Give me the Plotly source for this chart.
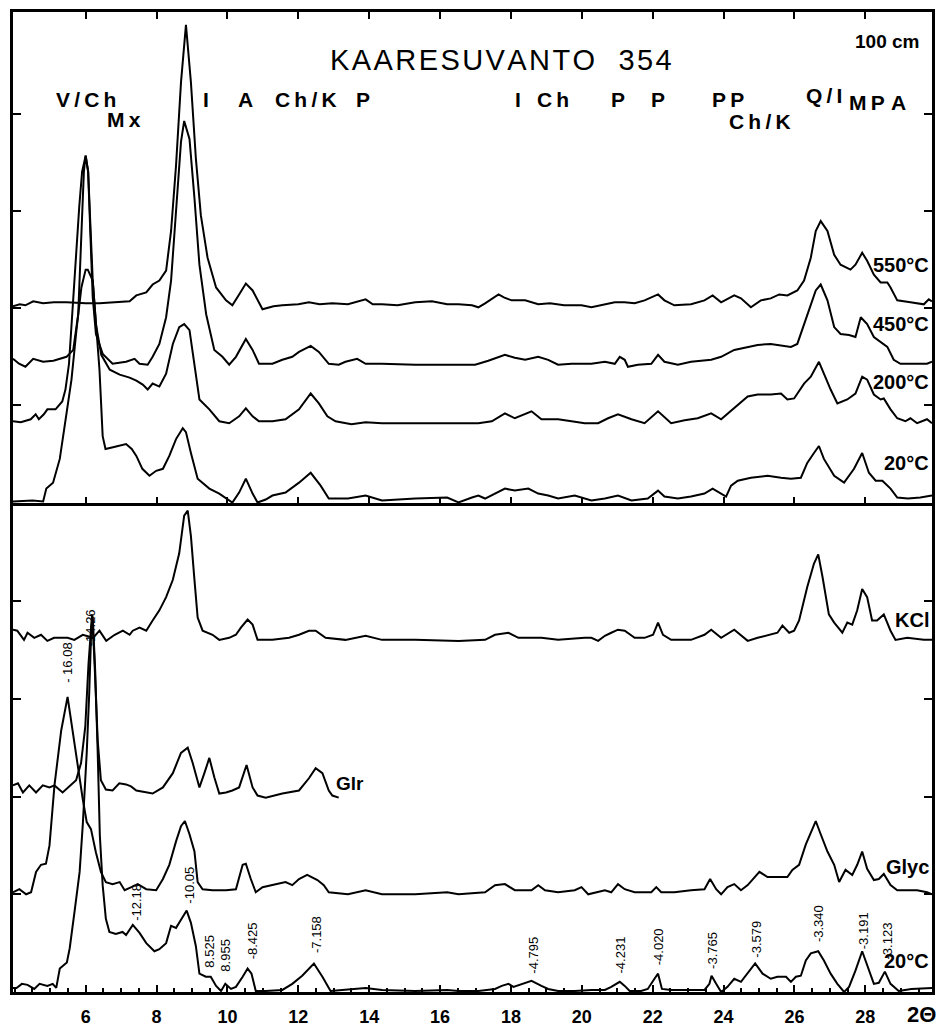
import plotly.graph_objects as go
from plotly.subplots import make_subplots

FONT = "Liberation Sans, Arial, Helvetica, sans-serif"

# ---------------- TOP PANEL (heat treatments) ----------------
t550_x = [3.95,4.14,4.3,4.52,4.8,5.1,5.46,5.8,6.0,6.39,6.8,7.24,7.43,7.71,7.89,8.08,8.27,8.41,8.55,8.69,8.83,8.97,9.11,9.25,9.44,9.68,9.96,10.14,10.33,10.52,10.71,10.99,11.3,11.55,12.0,12.3,12.6,12.96,13.4,13.9,14.1,14.36,14.8,15.3,15.77,16.2,16.52,16.9,17.08,17.27,17.65,17.8,18.02,18.4,18.77,19.1,19.5,19.99,20.27,20.65,20.93,21.2,21.49,21.77,22.15,22.33,22.61,23.08,23.46,23.69,23.93,24.30,24.49,24.77,25.05,25.33,25.57,25.80,26.08,26.27,26.46,26.60,26.74,26.93,27.12,27.30,27.58,27.72,27.91,28.05,28.24,28.43,28.62,28.71,28.90,29.27,29.65,29.79,29.88]
t550_y = [199,201,200,204,202,203,203,202,202,202,203,204,210,213,221,225,235,275,341,425,483,425,348,291,248,218,205,200,211,222,215,196,199,200,201,203,201,202,201,206,201,201,200,203,204,201,201,200,198,202,211,208,205,205,201,202,200,200,198,201,203,203,202,205,211,205,200,201,205,210,203,210,207,198,205,207,211,210,215,225,248,275,285,275,251,241,236,241,253,245,231,223,223,218,205,203,201,206,204]

t450_x = [3.95,4.12,4.30,4.52,4.80,5.09,5.46,5.65,5.79,5.88,5.95,6.00,6.07,6.13,6.20,6.29,6.48,6.76,7.14,7.38,7.52,7.75,7.89,8.08,8.27,8.41,8.55,8.69,8.78,8.93,9.07,9.21,9.40,9.63,9.86,10.05,10.24,10.52,10.71,10.89,11.27,11.55,11.83,12.02,12.35,12.58,12.86,13.14,13.33,13.66,13.9,14.36,15.3,16.0,16.52,16.99,17.36,17.83,18.11,18.40,18.77,19.05,19.33,19.71,20.27,20.65,20.93,21.07,21.21,21.30,21.58,21.96,22.15,22.33,22.71,23.08,23.65,23.93,24.30,24.68,24.96,25.33,25.57,25.90,26.08,26.27,26.46,26.60,26.74,26.93,27.12,27.30,27.54,27.72,27.87,28.05,28.24,28.43,28.62,28.80,28.99,29.46,29.74,29.88]
t450_y = [146,141,138,146,143,144,148,155,191,275,335,351,335,275,208,171,151,141,143,146,141,140,148,161,188,225,291,365,386,368,308,241,191,155,148,140,148,166,155,141,141,145,148,153,159,153,141,140,143,146,141,141,140,140,140,140,144,150,147,145,148,145,140,141,141,143,141,148,145,138,140,141,150,143,140,143,145,148,155,158,160,161,160,158,161,181,201,215,221,205,178,171,170,168,188,181,168,163,158,145,141,141,141,143]

t200_x = [3.95,4.17,4.45,4.59,4.68,4.82,4.92,5.15,5.34,5.43,5.53,5.62,5.72,5.82,5.90,6.00,6.07,6.13,6.20,6.29,6.44,6.68,6.96,7.24,7.43,7.61,7.75,7.89,8.08,8.27,8.46,8.64,8.78,8.93,9.07,9.21,9.49,9.77,10.05,10.33,10.52,10.71,10.89,11.27,11.64,12.02,12.35,12.58,12.82,13.05,13.5,13.9,14.36,15.77,16.52,17.08,17.46,17.83,18.11,18.58,18.86,19.33,19.71,20.08,20.46,20.74,21.02,21.40,21.77,22.15,22.52,22.90,23.27,23.65,23.93,24.30,24.68,24.96,25.33,25.62,25.80,25.99,26.27,26.46,26.69,26.83,27.02,27.21,27.49,27.72,27.91,28.05,28.24,28.43,28.52,28.71,28.90,29.13,29.27,29.46,29.74,29.88]
t200_y = [83,82,85,90,85,90,95,95,103,115,141,191,250,300,335,351,335,275,225,181,150,135,130,127,124,120,115,121,118,131,161,178,181,175,141,105,95,83,81,88,96,88,83,83,85,95,111,101,88,83,80,82,81,81,81,81,83,91,86,93,85,85,83,81,81,86,90,85,81,93,81,84,86,91,85,96,108,110,110,111,105,106,121,128,143,131,115,101,105,111,128,125,110,105,106,95,86,83,86,81,85,81]

t20_x = [3.95,4.5,4.8,4.89,5.08,5.27,5.46,5.60,5.74,5.88,6.00,6.06,6.20,6.28,6.39,6.48,6.56,6.80,7.05,7.14,7.30,7.43,7.60,7.71,7.80,7.99,8.18,8.36,8.55,8.74,8.83,8.97,9.16,9.49,9.77,10.14,10.33,10.52,10.71,10.85,11.08,11.27,11.64,12.02,12.35,12.63,12.86,13.4,13.90,14.36,15.3,16.2,16.52,16.9,17.08,17.27,17.55,17.83,18.11,18.49,18.77,19.05,19.33,19.80,20.27,20.65,21.02,21.40,21.86,22.15,22.33,22.71,23.08,23.46,23.69,23.93,24.07,24.21,24.40,24.77,25.24,25.62,25.90,26.18,26.36,26.55,26.69,26.83,27.12,27.40,27.68,27.91,28.10,28.29,28.48,28.71,28.90,29.2,29.55,29.88]
t20_y = [2,3,2,15,21,45,91,125,175,218,236,236,225,185,135,68,55,57,59,60,55,48,35,31,28,33,35,48,65,76,72,51,25,15,10,1,11,25,10,1,4,8,11,21,31,18,5,5,8,3,5,6,1,6,8,5,10,15,13,15,10,8,5,8,3,5,8,3,5,13,7,5,7,10,15,10,7,18,23,26,28,26,25,26,41,51,58,45,28,21,35,51,31,23,23,15,6,5,6,8]

# ---------------- BOTTOM PANEL (treatments) ----------------
kcl_x = [3.95,4.07,4.26,4.36,4.55,4.74,4.92,5.11,5.49,5.68,5.92,6.21,6.39,6.58,6.82,7.05,7.24,7.33,7.52,7.71,7.89,8.08,8.27,8.46,8.64,8.78,8.88,8.97,9.07,9.16,9.30,9.58,9.77,10.05,10.24,10.38,10.57,10.71,10.85,11.27,11.74,12.02,12.30,12.49,12.77,13.33,13.90,14.36,15.3,16.2,16.52,17.27,17.55,17.93,18.21,18.86,19.33,20.08,20.27,20.46,20.65,20.83,21.02,21.21,21.49,21.77,22.01,22.15,22.29,22.52,23.08,23.46,23.65,23.93,24.30,24.68,24.96,25.52,25.66,25.85,25.99,26.13,26.36,26.55,26.67,26.79,26.97,27.12,27.35,27.49,27.63,27.77,27.91,28.05,28.19,28.33,28.52,28.71,28.85,29.18,29.65,29.88]
kcl_y = [356,355,346,353,348,351,345,348,348,346,351,348,355,345,351,355,351,355,358,355,365,375,388,405,431,468,473,448,405,368,355,351,346,348,351,358,366,361,346,346,348,351,355,355,348,346,350,346,346,345,345,346,351,353,348,348,346,348,348,345,350,353,356,355,348,348,351,363,351,346,346,351,356,348,356,345,348,353,360,353,355,365,398,421,430,408,371,363,353,363,361,375,396,388,365,365,371,355,346,348,346,346]

glr_x = [3.95,4.09,4.23,4.41,4.60,4.79,4.98,5.12,5.35,5.59,5.73,5.87,5.99,6.08,6.15,6.18,6.24,6.34,6.43,6.57,6.76,6.95,7.14,7.28,7.43,7.71,7.89,8.18,8.46,8.69,8.88,9.02,9.21,9.35,9.49,9.63,9.77,9.96,10.14,10.33,10.54,10.71,10.85,11.08,11.55,12.02,12.30,12.49,12.68,12.86,12.96,13.14]
glr_y = [203,205,196,203,196,203,201,203,196,203,208,225,261,322,364,371,332,247,208,199,198,205,204,202,198,196,195,201,215,235,240,225,201,215,230,211,195,196,198,201,223,201,193,191,195,198,210,220,215,198,193,191]

glyc_x = [3.95,4.13,4.32,4.46,4.60,4.74,4.88,4.98,5.12,5.31,5.49,5.64,5.78,5.92,6.03,6.15,6.29,6.43,6.57,6.76,6.96,7.10,7.29,7.47,7.71,7.99,8.18,8.36,8.55,8.69,8.80,8.93,9.07,9.16,9.30,9.58,9.96,10.24,10.43,10.52,10.66,10.80,10.99,11.27,11.64,11.83,12.02,12.25,12.54,12.72,12.86,13.4,13.90,14.36,15.3,16.2,16.52,17.27,17.55,17.83,18.11,18.58,18.77,18.96,19.33,19.80,19.99,20.18,20.65,20.83,21.02,21.21,21.49,21.96,22.10,22.24,22.61,23.08,23.46,23.62,23.79,23.93,24.11,24.30,24.49,24.68,25.01,25.24,25.80,25.94,26.13,26.32,26.60,26.74,26.93,27.12,27.26,27.44,27.63,27.77,27.91,28.05,28.24,28.38,28.52,28.71,28.90,29.46,29.74,29.88]
glyc_y = [98,101,96,98,118,125,126,144,203,257,290,254,218,189,167,160,137,118,108,106,108,100,103,106,101,100,111,125,148,163,168,155,138,108,101,100,100,101,125,126,111,98,103,105,108,105,111,115,110,105,98,96,100,96,96,98,96,98,105,106,100,100,105,100,98,100,103,96,100,98,106,101,98,98,103,98,98,100,101,111,101,96,103,106,100,105,118,113,113,120,125,145,168,155,138,125,108,120,115,125,138,121,110,111,116,105,100,100,98,96]

b20_x = [3.95,4.05,4.20,4.36,4.55,4.70,4.92,5.07,5.17,5.27,5.47,5.55,5.69,5.83,5.92,6.03,6.10,6.16,6.20,6.27,6.34,6.40,6.48,6.57,6.67,6.85,7.04,7.14,7.33,7.52,7.71,7.94,8.08,8.27,8.41,8.55,8.69,8.85,8.97,9.11,9.21,9.39,9.53,9.68,9.82,9.94,10.10,10.24,10.43,10.57,10.68,10.80,11.08,11.55,11.83,12.11,12.44,12.68,12.91,13.33,13.90,14.36,15.3,16.2,16.52,17.08,17.55,17.74,17.93,18.07,18.30,18.58,18.86,19.05,19.33,19.80,20.27,20.65,20.83,21.07,21.21,21.35,21.67,21.86,22.05,22.15,22.26,22.52,23.08,23.46,23.60,23.66,23.79,23.93,24.11,24.30,24.49,24.72,24.89,25.10,25.33,25.52,25.76,25.90,26.04,26.18,26.32,26.46,26.67,26.83,27.02,27.21,27.40,27.54,27.72,27.91,28.10,28.24,28.38,28.55,28.71,28.94,29.3,29.88]
b20_y = [4,4,8,7,3,8,6,8,4,23,29,43,80,118,165,235,293,358,369,315,235,154,105,72,59,57,59,56,66,58,48,40,42,48,65,63,71,80,68,45,18,15,15,6,1,8,3,5,15,23,18,1,1,2,8,16,28,15,1,2,4,2,1,2,1,1,3,6,8,5,8,11,6,3,1,1,2,2,5,10,6,1,1,3,13,18,3,2,2,2,8,16,8,0,5,13,10,21,28,18,13,15,15,10,15,16,31,38,40,31,18,8,0,5,21,40,21,8,9,20,8,1,3,4]

# ---------------- text ----------------
title_text = "KAARESUVANTO  354"
depth_text = "100 cm"
mineral_labels = ["V/Ch", "Mx", "I", "A", "Ch/K", "P", "I", "Ch", "P", "P", "PP", "Ch/K", "Q/I", "MP", "A"]
mineral_x = [6.0, 7.07, 9.40, 10.50, 12.22, 13.82, 18.21, 19.19, 21.02, 22.15, 24.12, 25.02, 26.82, 28.05, 28.93]
mineral_y = [408, 388, 408, 408, 408, 408, 408, 408, 408, 408, 408, 386, 412, 405, 405]

top_curve_labels = ["550°C", "450°C", "200°C", "20°C"]
top_curve_label_y = [241, 181, 123, 41]
bot_curve_labels = ["KCl", "Glyc", "20°C"]
bot_curve_label_y = [366, 123, 30]

d_labels = ["- 16.08", "-14.26", "-12.18", "-10.05", "8.525", "8.955", "-8.425", "-7.158",
            "-4.795", "-4.231", "-4.020", "-3.765", "-3.579", "-3.340", "-3.191", "-3.123"]
d_x = [5.49, 6.14, 7.43, 8.93, 9.49, 9.94, 10.70, 12.50,
       18.63, 21.08, 22.15, 23.69, 24.93, 26.70, 27.97, 28.62]
d_y = [323, 358, 88, 105, 40, 36, 50, 56, 36, 36, 44, 41, 52, 67, 60, 50]

x_ticks = [6, 8, 10, 12, 14, 16, 18, 20, 22, 24, 26, 28]
top_yticks = [99, 197, 295, 393]
bot_yticks = [96, 192, 288, 384]


def spaced(s, sep="\u2009"):
    return sep.join(list(s))


# ---------------- figure ----------------
fig = make_subplots(rows=2, cols=1, shared_xaxes=True, vertical_spacing=0,
                    row_heights=[496, 493])

line = dict(color="black", width=2)
for xs, ys in [(t550_x, t550_y), (t450_x, t450_y), (t200_x, t200_y), (t20_x, t20_y)]:
    fig.add_trace(go.Scatter(x=xs, y=ys, mode="lines", line=line, showlegend=False,
                             hoverinfo="skip"), row=1, col=1)
for xs, ys in [(kcl_x, kcl_y), (glr_x, glr_y), (glyc_x, glyc_y), (b20_x, b20_y)]:
    fig.add_trace(go.Scatter(x=xs, y=ys, mode="lines", line=line, showlegend=False,
                             hoverinfo="skip"), row=2, col=1)

xr = [3.95, 29.88]
common_x = dict(range=xr, showline=True, linewidth=2.5, linecolor="black", showgrid=False,
                zeroline=False, ticks="inside", ticklen=7, tickwidth=2, tickcolor="black",
                tickmode="array", tickvals=x_ticks)
fig.update_xaxes(**common_x, mirror="ticks", showticklabels=False, row=1, col=1)
fig.update_xaxes(**common_x, row=2, col=1, showticklabels=True,
                 ticktext=["<b>%d</b>" % v for v in x_ticks],
                 tickfont=dict(family=FONT, size=18, color="black"),
                 ticklabelstandoff=7,
                 minor=dict(ticks="inside", ticklen=4, tickwidth=1.5, tickcolor="black",
                            tickmode="linear", tick0=0, dtick=0.5))

common_y = dict(showline=True, linewidth=2.5, linecolor="black", mirror="ticks",
                showgrid=False, zeroline=False, ticks="inside", ticklen=8, tickwidth=2,
                tickcolor="black", showticklabels=False, tickmode="array")
fig.update_yaxes(**common_y, range=[0, 496], tickvals=top_yticks, row=1, col=1)
fig.update_yaxes(**common_y, range=[0, 480], tickvals=bot_yticks, row=2, col=1)

ann = []
ann.append(dict(x=17.73, y=448, xref="x", yref="y", text=spaced(title_text, "\u200a"),
                showarrow=False, font=dict(family=FONT, size=29, color="black")))
ann.append(dict(x=28.62, y=466, xref="x", yref="y", text="<b>%s</b>" % depth_text,
                showarrow=False, font=dict(family=FONT, size=19, color="black")))
for t, xx, yy in zip(mineral_labels, mineral_x, mineral_y):
    ann.append(dict(x=xx, y=yy, xref="x", yref="y", text="<b>%s</b>" % spaced(t),
                    showarrow=False, font=dict(family=FONT, size=21, color="black")))
for t, yy in zip(top_curve_labels, top_curve_label_y):
    ann.append(dict(x=29.85, y=yy, xref="x", yref="y", text="<b>%s</b>" % t, showarrow=False,
                    xanchor="right", font=dict(family=FONT, size=20, color="black")))
for t, yy in zip(bot_curve_labels, bot_curve_label_y):
    ann.append(dict(x=29.85, y=yy, xref="x2", yref="y2", text="<b>%s</b>" % t, showarrow=False,
                    xanchor="right", font=dict(family=FONT, size=20, color="black")))
ann.append(dict(x=13.0, y=205, xref="x2", yref="y2", text="<b>Glr</b>", showarrow=False,
                xanchor="left", font=dict(family=FONT, size=19, color="black")))
for t, xx, yy in zip(d_labels, d_x, d_y):
    ann.append(dict(x=xx, y=yy, xref="x2", yref="y2", text=t, showarrow=False, textangle=-90,
                    font=dict(family=FONT, size=13, color="black")))
ann.append(dict(x=29.57, y=-0.0233, xref="x2", yref="paper", text="<b>2Θ</b>",
                showarrow=False, yanchor="middle",
                font=dict(family=FONT, size=22, color="black")))

fig.update_layout(width=943, height=1035, margin=dict(l=13, r=8, t=12, b=34),
                  paper_bgcolor="white", plot_bgcolor="white", annotations=ann,
                  showlegend=False)

fig.write_html("out.html")
